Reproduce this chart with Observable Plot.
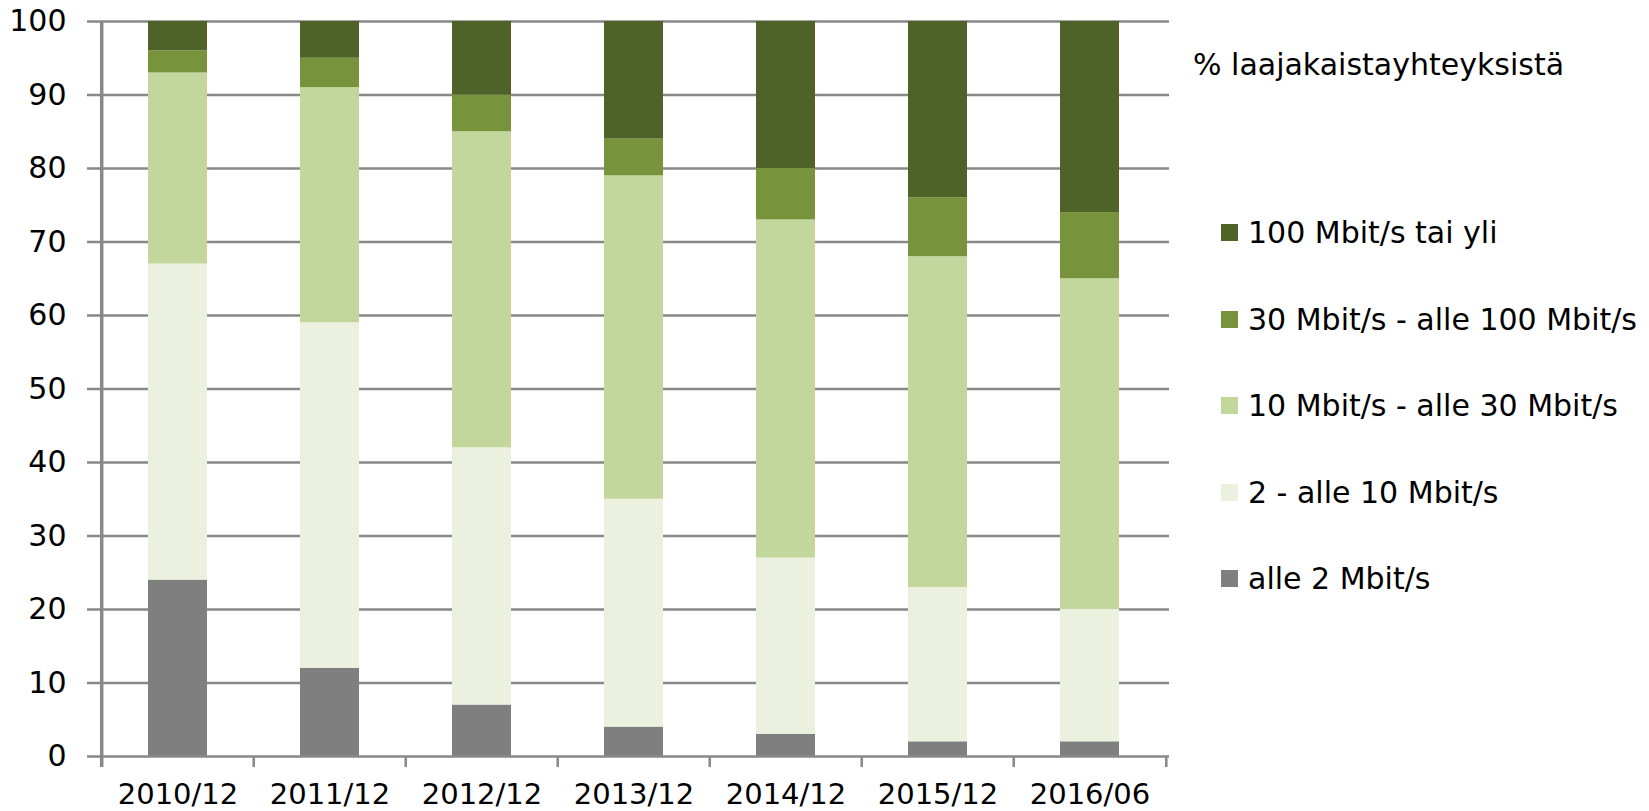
<!DOCTYPE html>
<html>
<head>
<meta charset="utf-8">
<script src="https://cdn.jsdelivr.net/npm/d3@7"></script>
<script src="https://cdn.jsdelivr.net/npm/@observablehq/plot@0.6"></script>
<style>
  html, body { margin: 0; padding: 0; background: #fff; }
  #wrap { position: relative; width: 1649px; height: 811px; font-family: "DejaVu Sans", sans-serif; }
  #legend { position: absolute; left: 1193px; top: 0; font-size: 30px; color: #000; }
  #legend .title { position: absolute; left: 0; top: 47px; white-space: nowrap; }
  #legend .item { position: absolute; left: 28px; white-space: nowrap; height: 36px; line-height: 36px; }
  #legend .sw { position: absolute; left: 0; top: 9px; width: 17px; height: 17px; }
  #legend .lbl { position: absolute; left: 27px; top: 0; }
</style>
</head>
<body>
<div id="wrap"></div>
<script>
const periods = ["2010/12","2011/12","2012/12","2013/12","2014/12","2015/12","2016/06"];
const seriesNames = ["alle 2 Mbit/s","2 - alle 10 Mbit/s","10 Mbit/s - alle 30 Mbit/s","30 Mbit/s - alle 100 Mbit/s","100 Mbit/s tai yli"];
const seriesColors = ["#7f7f7f","#ebf1de","#c3d69b","#77933c","#4f6228"];
const alle2 = [24,12,7,4,3,2,2];
const from2to10 = [43,47,35,31,24,21,18];
const from10to30 = [26,32,43,44,46,45,45];
const from30to100 = [3,4,5,5,7,8,9];
const over100 = [4,5,10,16,20,24,26];
const yTicks = [0,10,20,30,40,50,60,70,80,90,100];
const legendTitle = "% laajakaistayhteyksistä";

const seriesValues = [alle2, from2to10, from10to30, from30to100, over100];
const data = [];
seriesNames.forEach((s, si) => periods.forEach((p, pi) => data.push({period: p, series: s, value: seriesValues[si][pi]})));

const W = 1649, H = 811;
const mL = 99, mR = 482, mT = 21, mB = 55;
const step = (W - mL - mR) / periods.length;
const axisColor = "#888888";

const chart = Plot.plot({
  width: W, height: H,
  marginLeft: mL, marginRight: mR, marginTop: mT, marginBottom: mB,
  style: {fontFamily: "DejaVu Sans, sans-serif", fontSize: "30px", color: "#000", background: "#fff"},
  x: {domain: periods, paddingInner: 0.613, paddingOuter: 0.3065, label: null},
  y: {domain: [0, 100], label: null},
  color: {domain: seriesNames, range: seriesColors},
  marks: [
    Plot.ruleY(yTicks.filter(d => d > 0), {stroke: axisColor, strokeWidth: 2.5, insetLeft: -12, insetRight: -2}),
    Plot.barY(data, {x: "period", y: "value", fill: "series", order: seriesNames}),
    Plot.ruleY([0], {stroke: axisColor, strokeWidth: 2.5, insetLeft: -12, insetRight: -2}),
    Plot.ruleX([periods[0]], {x: d => d, dx: -step / 2, y1: 100, y2: 0, insetBottom: -11, insetTop: 0, stroke: axisColor, strokeWidth: 3.5}),
    Plot.ruleX(periods.slice(1), {x: d => d, dx: -step / 2, y1: 0, y2: 0, insetBottom: -11, stroke: axisColor, strokeWidth: 2.5}),
    Plot.ruleX([periods[periods.length - 1]], {x: d => d, dx: step / 2, y1: 0, y2: 0, insetBottom: -11, stroke: axisColor, strokeWidth: 2.5}),
    Plot.axisY({ticks: yTicks, tickSize: 0, tickPadding: 33, tickFormat: d => String(d), fontSize: 30, fill: "#000"}),
    Plot.axisX({tickSize: 0, tickPadding: 27, fontSize: 29, fill: "#000"})
  ]
});

const wrap = document.getElementById("wrap");
wrap.appendChild(chart);

const legend = document.createElement("div");
legend.id = "legend";
const title = document.createElement("div");
title.className = "title";
title.textContent = legendTitle;
legend.appendChild(title);
const legendTop = 215;
const legendGap = 86.5;
seriesNames.slice().reverse().forEach((name, i) => {
  const item = document.createElement("div");
  item.className = "item";
  item.style.top = (legendTop + i * legendGap) + "px";
  const sw = document.createElement("div");
  sw.className = "sw";
  sw.style.background = seriesColors[seriesNames.indexOf(name)];
  const lbl = document.createElement("span");
  lbl.className = "lbl";
  lbl.textContent = name;
  item.appendChild(sw);
  item.appendChild(lbl);
  legend.appendChild(item);
});
wrap.appendChild(legend);
</script>
</body>
</html>
